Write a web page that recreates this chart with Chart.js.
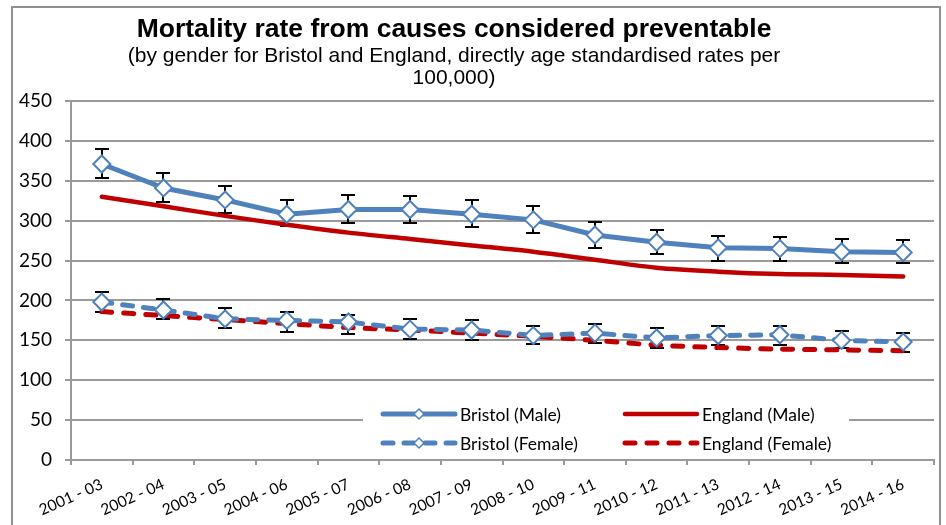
<!DOCTYPE html>
<html><head><meta charset="utf-8">
<script src="https://cdn.jsdelivr.net/npm/chart.js@4.4.1/dist/chart.umd.min.js"></script>
<style>html,body{margin:0;padding:0;background:#fff;}canvas{display:block}</style>
</head><body>
<canvas id="c" width="946" height="525"></canvas>
<script>
const titleText = 'Mortality rate from causes considered preventable';
const subtitleLines = ['(by gender for Bristol and England, directly age standardised rates per', '100,000)'];
const categories = ['2001 - 03','2002 - 04','2003 - 05','2004 - 06','2005 - 07','2006 - 08','2007 - 09','2008 - 10','2009 - 11','2010 - 12','2011 - 13','2012 - 14','2013 - 15','2014 - 16'];
const yTickValues = [0, 50, 100, 150, 200, 250, 300, 350, 400, 450];

const seriesLabels = ['Bristol (Male)', 'England (Male)', 'Bristol (Female)', 'England (Female)'];
const bristolMale      = [371, 341, 326, 308, 314, 314, 308, 301, 282, 273, 266, 265, 261, 260];
const bristolMaleLow   = [353, 324, 309, 293, 297, 297, 292, 284, 266, 258, 250, 250, 247, 247];
const bristolMaleHigh  = [390, 360, 344, 326, 332, 331, 326, 318, 298, 288, 281, 280, 277, 276];
const englandMale      = [330, 318, 306, 295, 285, 277, 269, 261, 251, 241, 236, 233, 232, 230];
const bristolFemale    = [198, 188, 177, 175, 173, 164, 163, 156, 159, 153, 156, 157, 150, 148];
const bristolFemaleLow = [185, 177, 165, 160, 158, 152, 150, 145, 147, 141, 144, 144, 140, 136];
const bristolFemaleHigh= [211, 202, 190, 186, 182, 177, 175, 168, 170, 165, 168, 168, 162, 159];
const englandFemale    = [186, 181, 176, 171, 166, 163, 159, 155, 150, 144, 141, 139, 138, 137];

const BLUE = '#4F81BD', RED = '#C00000', GRID = '#9a9a9a';

const framePlugin = {
  id: 'frame',
  beforeDraw(chart) {
    const ctx = chart.ctx;
    ctx.save();
    ctx.strokeStyle = '#8f8f8f';
    ctx.lineWidth = 2;
    ctx.strokeRect(12, 7, 928, 540);
    ctx.restore();
  }
};

const shiftTitlePlugin = {
  id: 'shiftTitle',
  afterLayout(chart) {
    chart.boxes.forEach(b => {
      if (b.options && Object.prototype.hasOwnProperty.call(b.options, 'text') && b.position === 'top') {
        b.left -= 13; b.right -= 13;
      }
    });
  }
};

const errorBarPlugin = {
  id: 'errorBars',
  beforeDatasetsDraw(chart) {
    const ctx = chart.ctx, ys = chart.scales.y;
    ctx.save();
    ctx.strokeStyle = '#000';
    ctx.lineWidth = 2;
    chart.data.datasets.forEach((ds, i) => {
      if (!ds.errLow) return;
      const meta = chart.getDatasetMeta(i);
      meta.data.forEach((pt, j) => {
        const x = Math.round(pt.x);
        const y1 = Math.round(ys.getPixelForValue(ds.errLow[j]));
        const y2 = Math.round(ys.getPixelForValue(ds.errHigh[j]));
        ctx.beginPath();
        ctx.moveTo(x, y1); ctx.lineTo(x, y2);
        ctx.moveTo(x - 7, y1); ctx.lineTo(x + 7, y1);
        ctx.moveTo(x - 7, y2); ctx.lineTo(x + 7, y2);
        ctx.stroke();
      });
    });
    ctx.restore();
  }
};

const boxLegendPlugin = {
  id: 'boxLegend',
  afterDraw(chart) {
    const ctx = chart.ctx;
    ctx.save();
    ctx.fillStyle = '#fff';
    ctx.fillRect(363, 397, 486, 61);
    const cols = [383, 625], rows = [414, 443];
    chart.data.datasets.forEach((ds, i) => {
      const x = cols[i % 2], y = rows[Math.floor(i / 2)];
      ctx.strokeStyle = ds.borderColor;
      ctx.lineWidth = ds.borderWidth;
      ctx.lineCap = 'round';
      ctx.setLineDash(ds.borderDash || []);
      ctx.beginPath(); ctx.moveTo(x, y); ctx.lineTo(x + 72, y); ctx.stroke();
      ctx.setLineDash([]);
      if (ds.pointRadius > 0) {
        const cx = x + 36, r = 5;
        ctx.fillStyle = '#fff'; ctx.strokeStyle = BLUE; ctx.lineWidth = 1.5;
        ctx.beginPath();
        ctx.moveTo(cx, y - r); ctx.lineTo(cx + r, y); ctx.lineTo(cx, y + r); ctx.lineTo(cx - r, y); ctx.closePath();
        ctx.fill(); ctx.stroke();
      }
      ctx.fillStyle = '#000';
      ctx.font = '17.5px Lato';
      ctx.textBaseline = 'middle';
      ctx.textAlign = 'left';
      ctx.fillText(ds.label, x + 77, y + 1);
    });
    ctx.restore();
  }
};

new Chart(document.getElementById('c'), {
  type: 'line',
  data: {
    labels: categories,
    datasets: [
      { label: seriesLabels[0], data: bristolMale, errLow: bristolMaleLow, errHigh: bristolMaleHigh,
        borderColor: BLUE, borderWidth: 5, tension: 0, pointStyle: 'rectRot', pointRadius: 8.5,
        pointBorderWidth: 2, pointBackgroundColor: '#fff', pointBorderColor: BLUE, borderJoinStyle: 'round' },
      { label: seriesLabels[1], data: englandMale,
        borderColor: RED, borderWidth: 4.5, tension: 0.3, pointRadius: 0, borderCapStyle: 'round' },
      { label: seriesLabels[2], data: bristolFemale, errLow: bristolFemaleLow, errHigh: bristolFemaleHigh,
        borderColor: BLUE, borderWidth: 5, tension: 0, borderDash: [10, 11], borderCapStyle: 'round',
        pointStyle: 'rectRot', pointRadius: 8.5, pointBorderWidth: 2, pointBackgroundColor: '#fff', pointBorderColor: BLUE },
      { label: seriesLabels[3], data: englandFemale,
        borderColor: RED, borderWidth: 5, tension: 0.3, borderDash: [10, 12], borderCapStyle: 'round', pointRadius: 0 }
    ]
  },
  options: {
    responsive: false,
    animation: false,
    devicePixelRatio: 1,
    layout: { padding: { top: 8, left: 0, right: 12, bottom: 0 } },
    plugins: {
      legend: { display: false },
      tooltip: { enabled: false },
      title: { display: true, text: titleText, color: '#000',
        font: { family: "'Liberation Sans', Arial, sans-serif", size: 26.5, weight: 'bold', lineHeight: 1.1 },
        padding: { top: 7, bottom: 0 } },
      subtitle: { display: true, text: subtitleLines, color: '#000',
        font: { family: "'Liberation Sans', Arial, sans-serif", size: 21, weight: 'normal', lineHeight: 1.05 },
        padding: { top: 1, bottom: 11.75 } }
    },
    scales: {
      x: {
        type: 'category',
        offset: true,
        grid: { offset: true, drawOnChartArea: false, drawTicks: true, tickLength: 5, color: GRID, lineWidth: 2 },
        border: { display: true, color: GRID, width: 2 },
        ticks: { autoSkip: false, minRotation: 24, maxRotation: 24, color: '#000', padding: 10,
          font: { family: 'Lato', size: 15.5 } },
        afterFit(s) { s.height = 65; }
      },
      y: {
        min: 0, max: 450,
        afterBuildTicks(s) { s.ticks = yTickValues.map(v => ({ value: v })); },
        grid: { color: GRID, lineWidth: 2, tickLength: 6, drawTicks: true },
        border: { display: true, color: GRID, width: 2 },
        ticks: { color: '#000', padding: 13, font: { family: 'Lato', size: 19 } },
        afterFit(s) { s.width = 71; }
      }
    }
  },
  plugins: [framePlugin, shiftTitlePlugin, errorBarPlugin, boxLegendPlugin]
});
</script>
</body></html>
